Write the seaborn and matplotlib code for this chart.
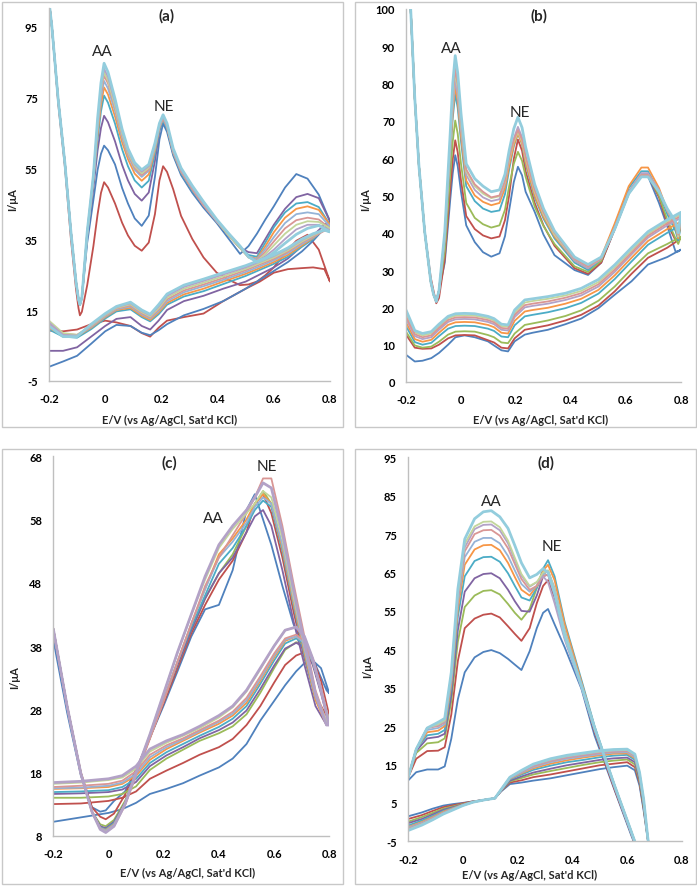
import matplotlib as mpl; mpl.use("Agg")
import matplotlib.pyplot as plt
import seaborn as sns
import pandas as pd
from matplotlib.patches import Rectangle

# ---- colores tipo Excel 2007 ----
COL = {"blue": "#4F81BD", "red": "#C0504D", "green": "#9BBB59", "purple": "#8064A2",
       "aqua": "#4BACC6", "orange": "#F79646", "lblue": "#95B3D7", "pink": "#D99694",
       "lgreen": "#C3D69B", "lav": "#B3A2C7", "laqua": "#93CDDD"}

# =================== (a) ===================
A_E_FWD = [-0.2, -0.19, -0.167, -0.143, -0.122, -0.104, -0.095, -0.09, -0.083, -0.064, -0.042, -0.027,
           -0.015, -0.004, 0.01, 0.035, 0.06, 0.081, 0.105, 0.13, 0.155, 0.177, 0.193, 0.206, 0.22, 0.242,
           0.27, 0.31, 0.35, 0.397, 0.44, 0.48, 0.51, 0.54, 0.57, 0.6, 0.64, 0.68, 0.72, 0.76, 0.8]
A_E_REV = [0.8, 0.78, 0.74, 0.7, 0.65, 0.6, 0.55, 0.5, 0.42, 0.35, 0.28, 0.22, 0.19, 0.16, 0.13, 0.09,
           0.04, 0.0, -0.05, -0.1, -0.15, -0.2]
A_FWD = {
    "red":    [102, 95, 73, 55, 35, 21, 15.5, 13.5, 14.5, 22, 33, 42, 48, 51, 49.5, 45, 39.6, 36, 33.1, 31.7, 34, 42, 51.5, 55.5, 53.9, 49, 41.5, 35, 29.8, 25.5, 23.5, 22, 22.2, 23, 24.8, 27, 31, 34.5, 36.2, 32, 23],
    "blue":   [102, 95, 74, 56, 37, 23, 18, 16.5, 18.5, 34, 46, 54.5, 59, 61.3, 60, 56, 49.4, 45, 40.8, 38.7, 41.6, 52.5, 63, 67.5, 65.2, 58.5, 53, 48, 43.8, 39.5, 35, 30.8, 33, 36.5, 40.5, 44.2, 49.5, 53.3, 52, 47.5, 40],
    "purple": [102, 95, 74, 56, 37, 23, 18, 16.5, 18.5, 35.5, 49.5, 60, 66.3, 69.7, 67.9, 62.5, 55.9, 51.5, 47.7, 45.8, 48.1, 57, 65.4, 69, 66.5, 59, 53.5, 48.5, 44.5, 40, 36, 32.5, 31.3, 31, 35, 39, 43.5, 46.8, 47.7, 46.5, 40],
    "aqua":   [102, 95, 74, 56, 37, 23, 18, 16.5, 18.5, 36, 51, 63, 71, 75.4, 73.4, 67.5, 60.3, 55.5, 51.5, 49.5, 51.4, 59, 65.7, 68.5, 66.1, 59, 53.5, 48.5, 44.5, 40, 36, 32.5, 30.5, 30, 34, 38.3, 42.5, 45, 45.4, 44, 39],
    "orange": [102, 95, 74, 56, 37, 23, 18, 16.5, 18.5, 36.5, 51.5, 64.5, 73, 77.7, 75.7, 69.5, 62.3, 57.5, 53.4, 51.4, 53.2, 60, 66.3, 69, 66.6, 59.5, 54, 49, 44.5, 40, 36, 32.5, 30, 29.5, 33, 36.9, 41, 43.5, 44.2, 43.2, 39],
    "lblue":  [102, 95, 74, 56, 37, 23, 18, 16.5, 18.5, 36.5, 52, 66, 74.8, 79.5, 77.4, 71, 63.5, 58.5, 54.5, 52.5, 54.2, 60.5, 66.5, 69, 66.6, 59.5, 54, 49, 44.5, 40, 36, 32.5, 30, 29.3, 32.2, 35.5, 39.5, 42, 42.5, 42, 38.5],
    "pink":   [102, 95, 74, 56, 37, 23, 18, 16.5, 18.5, 36.5, 52, 67, 76, 81, 78.8, 72, 64.2, 59, 55, 53, 54.6, 61, 66.6, 69, 66.6, 59.5, 54, 49, 44.5, 40, 36, 32.5, 29.8, 29, 31.4, 34.3, 38, 40.3, 41, 40.5, 38],
    "lgreen": [102, 95, 74, 56, 37, 23, 18, 16.5, 18.5, 37, 52.5, 67.5, 77, 82, 79.6, 72.5, 64.7, 59.5, 55.5, 53.5, 55.1, 61, 67, 69.5, 67.1, 60, 54.5, 49.5, 45, 40, 36, 32.5, 29.8, 28.8, 30.7, 33.2, 36.5, 39, 40, 39.8, 38],
    "lav":    [102, 95, 74, 56, 37, 23, 18, 16.5, 18.5, 37, 53, 68, 77.8, 83, 80.6, 73.5, 65.4, 60, 56, 54, 55.5, 61.5, 67.1, 69.5, 67.1, 60, 54.5, 49.5, 45, 40, 36.5, 33, 30, 28.7, 30.1, 32, 35, 37.7, 39, 39, 37.5],
    "laqua":  [102, 95, 74, 56, 37, 23, 18, 16.5, 18.5, 37, 53, 69, 79, 84.5, 82, 74.5, 66, 60.5, 56.5, 54.5, 56, 62, 67.6, 70, 67.6, 60.5, 55, 50, 45.5, 40.5, 36.5, 33, 30, 28.5, 29.5, 31.2, 33.8, 36.3, 38, 38.8, 37],
}
A_REV = {
    "red":    [23, 26.5, 27, 26.8, 26.5, 25.5, 23, 21, 17.5, 14, 13, 12, 10, 7.5, 8.5, 10.5, 11.5, 12, 11, 9.5, 9, 9.2],
    "blue":   [40, 38, 34.5, 31.5, 28.5, 26, 23.5, 21, 17.5, 15.3, 13.5, 11, 9.3, 7.9, 8.6, 10.5, 10.8, 9, 5.5, 2.1, 0.5, -1],
    "purple": [40, 39, 36, 33, 29.5, 27, 25, 23, 21, 19, 17.5, 15, 12, 9.5, 10.5, 13, 12.5, 10.5, 7.5, 4.5, 3.5, 3.5],
    "aqua":   [39, 38, 35, 32.8, 30, 28, 26.3, 24.6, 22.3, 20.3, 18.8, 16.5, 13.8, 11.8, 13, 15.2, 14.6, 12.6, 9.6, 7.2, 7.5, 9.5],
    "orange": [39, 37.8, 35.3, 33.2, 30.5, 28.5, 26.8, 25.2, 23, 21, 19.4, 17, 14.3, 12.2, 13.4, 15.6, 15, 13, 10, 7.6, 7.8, 10],
    "lblue":  [38.5, 37.5, 35.5, 33.6, 31, 29, 27.3, 25.7, 23.5, 21.7, 20, 17.5, 14.7, 12.6, 13.8, 16, 15.2, 13.2, 10.2, 7.8, 8, 10.5],
    "pink":   [38, 37.3, 35.7, 34, 31.4, 29.4, 27.8, 26.2, 24, 22.2, 20.5, 18, 15.1, 12.9, 14.1, 16.3, 15.4, 13.4, 10.4, 8, 8.3, 11],
    "lgreen": [38, 37.5, 36, 34.3, 31.8, 29.8, 28.2, 26.6, 24.5, 22.7, 21, 18.5, 15.5, 13.2, 14.4, 16.6, 15.6, 13.6, 10.6, 8, 8.5, 12],
    "lav":    [37.5, 37.5, 36.3, 34.7, 32.2, 30.2, 28.6, 27, 25, 23.2, 21.5, 19, 16, 13.5, 14.7, 16.9, 15.8, 13.8, 10.8, 7.8, 8, 11.5],
    "laqua":  [37, 37.5, 36.5, 35, 32.5, 30.5, 29, 27.5, 25.5, 23.7, 22, 19.5, 16.5, 13.8, 15, 17.2, 16, 14, 11, 7.5, 7.5, 10.5],
}

# =================== (b) ===================
B_E_FWD = [-0.2, -0.183, -0.168, -0.153, -0.132, -0.11, -0.1, -0.09, -0.08, -0.059, -0.039, -0.03, -0.021,
           -0.012, 0.0, 0.019, 0.05, 0.08, 0.11, 0.14, 0.16, 0.175, 0.192, 0.207, 0.222, 0.235, 0.268, 0.3,
           0.34, 0.413, 0.462, 0.51, 0.559, 0.61, 0.656, 0.68, 0.72, 0.75, 0.78, 0.79]
B_E_REV = [0.8, 0.75, 0.68, 0.62, 0.559, 0.5, 0.437, 0.38, 0.316, 0.26, 0.232, 0.195, 0.171, 0.147, 0.12,
           0.098, 0.05, 0.013, -0.02, -0.047, -0.08, -0.108, -0.14, -0.168, -0.2]
B_FWD = {
    "blue":   [115, 100, 76, 58, 40.3, 27, 23.5, 21.6, 24.5, 32, 49, 56, 60.8, 57.9, 51, 42, 37.5, 34.8, 33.6, 34.5, 39.1, 46, 53.6, 57.7, 55.4, 51, 45.6, 39.5, 34, 30, 28.7, 32, 41, 50.5, 55.5, 55.2, 48, 41.8, 35, 35],
    "red":    [115, 100, 76, 58, 40.3, 28, 24.5, 21.1, 22.5, 33, 52, 59.7, 64.8, 61.6, 54, 44.5, 41, 39.3, 38.5, 39, 43.4, 50, 59.8, 65, 62, 56.5, 48, 42, 36.5, 30.5, 29, 32, 41, 51, 55.5, 55.5, 49.5, 42.5, 38, 38.5],
    "green":  [115, 100, 76, 58, 40.3, 27, 23.5, 21.6, 24.5, 35, 56, 64.5, 70.1, 66.6, 58.5, 48, 44, 42.3, 41.4, 42, 46.2, 52.5, 58.5, 61.7, 59.3, 55, 47, 41.8, 37, 31, 29.5, 32.5, 41.5, 51, 55.5, 55.5, 50, 43.5, 38.5, 37],
    "aqua":   [115, 100, 76, 58, 40.3, 27, 23.5, 21.6, 24.5, 37.5, 61, 70.8, 77.3, 73.5, 64.5, 52.5, 48.5, 46.5, 45.6, 46, 50.4, 57, 63.2, 66.6, 63.8, 58.5, 49.5, 43.8, 38.5, 32, 30, 33, 42, 52, 56.5, 56.5, 51, 45, 40.5, 38],
    "orange": [115, 100, 76, 58, 40.3, 27, 23.5, 21.6, 24.5, 38, 62, 72.4, 79.3, 75.3, 66, 54, 50, 48.3, 47.4, 48, 52, 58, 63.6, 66.6, 63.9, 59, 50, 44.3, 39, 32.5, 30.5, 33.5, 42.5, 52.5, 57.5, 57.5, 52, 46, 41.5, 38.5],
    "lav":    [115, 100, 76, 58, 40.3, 27, 23.5, 21.6, 24.5, 38.5, 63, 73.7, 80.8, 76.8, 67.5, 55.5, 51.5, 49.5, 48.5, 49, 53.2, 59.5, 65.3, 68.4, 65.6, 60.5, 51, 45, 39.5, 32.5, 30.5, 33, 41.5, 51, 56, 56, 51.5, 46, 42, 39],
    "lgreen": [115, 100, 76, 58, 40.3, 27, 23.5, 21.6, 24.5, 39, 64, 75.4, 83, 78.8, 69, 56.5, 52.5, 50.5, 49.3, 49.8, 53.7, 59.5, 64.4, 67, 64.5, 60, 51, 45, 39.5, 33, 31, 33, 41, 50.5, 55.5, 55.5, 51, 46, 42, 39],
    "pink":   [115, 100, 76, 58, 40.3, 27, 23.5, 21.6, 24.5, 39.5, 65, 76.4, 84, 79.8, 70, 57, 53, 51, 49.5, 50, 54, 60, 64.9, 67.5, 65, 60.5, 51.5, 45.5, 40, 33, 31, 33, 41, 50.5, 55.5, 55.5, 51, 46, 42, 39.5],
    "laqua":  [115, 100, 76, 58, 40.3, 27, 23.5, 21.6, 24.5, 40.3, 67, 80, 87.5, 82.9, 72, 58.5, 54.5, 52.5, 51, 51.5, 55.7, 62, 67.9, 71, 68.2, 63, 53, 46.5, 40.5, 33.5, 31.5, 33.5, 41, 50.5, 55, 55, 51, 46.5, 43, 40],
}
B_REV = {
    "blue":   [35.5, 33.5, 31.5, 27, 23.4, 19.8, 17, 15.5, 14, 13.2, 12.7, 10.9, 8.2, 8.5, 9.8, 10.9, 12, 12.5, 12, 10, 7.8, 6.4, 5.7, 5.5, 7.3],
    "red":    [38.5, 36, 33.3, 29, 24.3, 20.5, 18, 16.5, 15.2, 14.4, 14, 11.7, 9, 9.2, 10.6, 11.2, 12.5, 12.6, 12.5, 11.7, 10, 9, 8.9, 9.2, 12.7],
    "green":  [39, 37, 34.5, 30.3, 25.6, 21.8, 19.2, 17.7, 16.5, 15.7, 15.3, 13, 10.4, 10.6, 12, 12.6, 13.5, 13.6, 13.5, 12.7, 10.8, 9.5, 9.2, 9.8, 13.5],
    "aqua":   [42, 40, 36.8, 32.3, 27.6, 23.7, 21.2, 19.8, 18.7, 18, 17.6, 15.2, 12, 12.2, 13.7, 14.3, 15, 15.1, 15, 14.3, 12.3, 10.5, 10, 10.7, 15],
    "orange": [43, 41, 37.8, 33.3, 28.6, 24.7, 22.3, 21, 19.9, 19.3, 18.9, 16.4, 13, 13.2, 14.7, 15.3, 16, 16.1, 16, 15.3, 13.2, 11.3, 10.8, 11.5, 16],
    "lav":    [44, 42, 38.7, 34.2, 29.5, 25.6, 23.2, 22, 21, 20.4, 20, 17.4, 13.8, 14, 15.5, 16.1, 16.8, 16.9, 16.8, 16.1, 14, 12, 11.5, 12.3, 17],
    "lgreen": [45, 43, 39.7, 35.3, 30.7, 26.8, 24.4, 23.2, 22.3, 21.7, 21.3, 18.6, 14.8, 15, 16.5, 17.1, 17.8, 17.9, 17.8, 17.1, 15, 13, 12.5, 13.3, 18.5],
    "pink":   [44.5, 42.5, 39.2, 34.7, 30.1, 26.2, 23.8, 22.6, 21.6, 21, 20.6, 18, 14.3, 14.5, 16, 16.6, 17.3, 17.4, 17.3, 16.6, 14.5, 12.5, 12, 12.8, 17.5],
    "laqua":  [45.5, 43.5, 40.3, 36, 31.4, 27.5, 25.1, 23.8, 22.9, 22.3, 22, 19.3, 15.3, 15.5, 17, 17.6, 18.3, 18.4, 18.3, 17.6, 15.5, 13.5, 13, 13.8, 19.3],
}

# =================== (c) ===================
C_E_FWD = [-0.2, -0.15, -0.1, -0.06, -0.03, -0.01, 0.02, 0.06, 0.1, 0.15, 0.2, 0.25, 0.3, 0.35, 0.4, 0.45,
           0.5, 0.53, 0.56, 0.59, 0.63, 0.67, 0.71, 0.75, 0.79]
C_E_REV = [0.8, 0.77, 0.74, 0.71, 0.68, 0.64, 0.6, 0.55, 0.5, 0.45, 0.4, 0.33, 0.27, 0.21, 0.15, 0.1, 0.05,
           0.0, -0.1, -0.2]
C_FWD = {
    "blue":   [39, 27.5, 17.5, 12.5, 11.8, 12, 13.5, 15, 18.5, 23.5, 28.6, 34, 39.5, 43.8, 44.5, 50, 59.5, 62, 58, 54, 47.5, 41.5, 37.5, 35, 31],
    "red":    [40.5, 28.5, 18, 12.5, 11, 10.6, 11.5, 14.5, 18.5, 23.5, 29, 34.5, 40, 44.5, 48.5, 51.5, 56, 60.5, 62, 59, 52, 43.5, 36, 30, 27],
    "green":  [40.7, 28.5, 17.8, 11.8, 9.8, 9.5, 10.5, 13.5, 18, 23.5, 29.5, 35, 40.5, 45.5, 49.5, 52.5, 57, 60.5, 62.5, 60.5, 53.5, 45, 37, 30, 26],
    "purple": [40.7, 28.5, 17.8, 11.8, 9.5, 9.2, 10.2, 13.2, 17.8, 23.5, 29.5, 35, 40.5, 45.5, 49.5, 52, 56, 58.5, 59.5, 57, 50, 42, 35, 28.5, 25.5],
    "aqua":   [40.7, 28.5, 17.8, 11.8, 9.3, 9, 10, 13, 17.8, 23.5, 29.5, 35.5, 41, 46, 51, 53.5, 57, 59.5, 61, 60, 53, 44.5, 36.5, 29.5, 26],
    "orange": [40.7, 28.5, 17.8, 11.8, 9.2, 8.9, 9.8, 13, 17.8, 23.5, 29.5, 35.5, 41.5, 47, 52.5, 55, 58, 60.5, 62, 60.5, 53.5, 45, 37, 29.5, 25.5],
    "lblue":  [40.7, 28.5, 17.8, 11.8, 9.2, 8.8, 9.7, 13, 17.8, 23.5, 29.5, 35.5, 41.5, 47, 52, 54.5, 57.5, 60, 61.5, 60.5, 54, 45.5, 37.5, 30, 25.5],
    "pink":   [40.7, 28.5, 17.8, 11.8, 9.1, 8.6, 9.5, 12.8, 17.5, 23.3, 29.3, 35.5, 41.5, 47.5, 52, 55.5, 59, 61.5, 64.5, 64.5, 57, 48, 39.5, 31, 26],
    "lgreen": [40.7, 28.5, 17.8, 11.8, 9, 8.6, 9.5, 13, 18, 24, 30.5, 37, 43, 48.5, 53.5, 56.5, 59, 60.5, 62.5, 61.5, 55, 46, 38, 30.5, 26],
    "lav":    [40.7, 28.5, 17.8, 11.8, 9, 8.5, 9.5, 13, 18, 24, 30.5, 37, 43, 49, 54, 57, 59.5, 61.5, 63.8, 63, 56, 47, 38.5, 30.5, 25.5],
}
C_REV = {
    "blue":   [30.5, 34.5, 35.7, 35.3, 34, 31.8, 29.3, 26.2, 22.5, 20.2, 18.8, 17.5, 16.3, 15.4, 14.6, 13.2, 12.2, 11.6, 10.9, 10.2],
    "red":    [27, 32.5, 36, 37, 36.5, 35, 32.2, 28.5, 25.5, 23.3, 22, 20.8, 19.5, 18.3, 17, 15, 14, 13.5, 13.1, 13],
    "green":  [26, 31, 35.5, 38, 38.6, 37.4, 34.5, 30.6, 27.2, 25.3, 24.2, 23, 21.6, 20.2, 18.4, 15.8, 14.6, 14.2, 14, 14],
    "purple": [25.5, 30.5, 35, 37.8, 38.5, 37.6, 34.9, 31.2, 27.8, 25.9, 24.7, 23.4, 22, 20.7, 19, 16.5, 15.3, 14.9, 14.7, 14.6],
    "aqua":   [26, 31, 35.5, 38.3, 39.2, 38.4, 35.7, 32, 28.5, 26.5, 25.2, 23.8, 22.5, 21.2, 19.5, 17, 15.7, 15.2, 15, 14.9],
    "orange": [25.5, 31, 35.5, 38.5, 39.5, 38.8, 36.2, 32.5, 29, 27, 25.7, 24.3, 23, 21.7, 20, 17.5, 16.2, 15.7, 15.5, 15.4],
    "lblue":  [25.5, 31, 35.5, 38.5, 39.5, 39, 36.5, 32.8, 29.4, 27.3, 26, 24.5, 23.2, 22, 20.4, 17.8, 16.4, 15.9, 15.6, 15.5],
    "pink":   [26, 31.5, 36, 38.8, 39.8, 39.2, 36.8, 33.2, 29.8, 27.6, 26.2, 24.7, 23.4, 22.3, 20.8, 18.2, 16.7, 16.2, 15.9, 15.7],
    "lgreen": [26, 31, 36, 39.5, 41, 40.5, 38, 34.3, 30.8, 28.3, 26.7, 25, 23.8, 22.7, 21.3, 18.6, 17.2, 16.8, 16.4, 16.2],
    "lav":    [25.5, 31, 36, 39.5, 41, 40.5, 38, 34.5, 31, 28.5, 27, 25.3, 24, 23, 21.7, 19, 17.5, 17, 16.6, 16.4],
}

# =================== (d) ===================
D_E_FWD = [-0.2, -0.17, -0.13, -0.09, -0.066, -0.042, -0.018, 0.007, 0.043, 0.075, 0.104, 0.135, 0.165,
           0.19, 0.214, 0.244, 0.27, 0.293, 0.311, 0.335, 0.372, 0.433, 0.481, 0.554, 0.615, 0.64]
D_E_REV = [0.69, 0.675, 0.66, 0.645, 0.628, 0.6, 0.55, 0.5, 0.44, 0.38, 0.32, 0.257, 0.215, 0.172, 0.14,
           0.117, 0.08, 0.038, 0.0, -0.035, -0.071, -0.11, -0.15, -0.2]
D_FWD = {
    "blue":   [10.8, 13, 13.7, 13.7, 14.5, 21.7, 32, 39, 42.9, 44.3, 44.8, 44, 42.5, 41, 39.6, 44.5, 50.5, 54.5, 55.5, 51.5, 45.5, 34.7, 22.5, 8.3, -3.5, -8],
    "red":    [11.5, 16.5, 18.5, 18.6, 19.5, 28, 42, 50.5, 53, 54, 54.3, 53.3, 51, 49, 47.2, 50.5, 57, 61.5, 63, 58.5, 48, 35.5, 23.5, 8.5, -3, -8],
    "green":  [11.5, 18, 20.5, 20.8, 21.8, 31.5, 47, 56, 59, 60.2, 60.4, 59.3, 56.8, 54.5, 52.7, 55.5, 61, 64.5, 65.5, 60, 49, 36, 24, 9, -3, -8],
    "purple": [11.5, 18.5, 21.8, 22.2, 23, 33, 50, 60, 63.5, 64.6, 64.8, 63.5, 60.5, 57.5, 55, 54.8, 59, 64, 64.5, 59, 48.5, 35.5, 24, 9, -3, -8],
    "aqua":   [11.5, 19, 22.6, 23, 24, 35, 53.5, 64, 68, 69, 69.1, 67.8, 64.8, 61.5, 58.5, 57.7, 61, 66, 68.2, 64, 52, 37, 25, 9.5, -2.5, -7.5],
    "orange": [11.5, 19, 23.4, 23.8, 25, 36, 55.5, 67, 71, 72.1, 72.2, 70.8, 67.5, 63.8, 60.5, 59, 61.5, 65.5, 67, 63, 51.5, 36.5, 24.5, 9.5, -2.5, -7.5],
    "lblue":  [11.5, 19, 24, 24.5, 25.5, 37, 57, 69, 73, 74, 74, 72.6, 69.3, 65.5, 62, 60, 61.5, 64.5, 65.5, 61, 50, 36, 24.5, 9.5, -2.5, -7.5],
    "pink":   [11.5, 19, 24.5, 25, 26, 37.5, 58, 70.5, 75, 76, 76.1, 74.6, 71.3, 67.2, 63.3, 60.5, 61.5, 64, 64.5, 59.5, 49, 35.5, 24.5, 9.5, -2.5, -7.5],
    "lav":    [11.5, 19, 24.5, 25.3, 26.3, 38, 59, 71.5, 76.3, 77.4, 77.5, 76, 72.6, 68.2, 64.2, 61.3, 62.5, 64, 62.5, 57, 47.5, 35, 24, 9, -3, -8],
    "lgreen": [11.5, 19, 24.5, 25.5, 26.5, 38.5, 59.5, 72.5, 77, 78.2, 78.3, 76.8, 73.3, 68.8, 64.6, 61.5, 62.5, 65, 65.5, 60.5, 49.5, 35.5, 24.5, 9.5, -2.5, -7.5],
    "laqua":  [11.5, 19, 24.5, 26, 27, 39, 60.7, 73.7, 79, 80.8, 81.1, 79.5, 76.5, 72, 67.5, 63.6, 64.5, 66, 65, 59.5, 48.5, 35.5, 24.5, 9.5, -2.5, -7.5],
}
D_REV = {
    "blue":   [-12, -4.5, 3, 9.5, 13.5, 14.7, 14.3, 13.8, 13, 12.2, 11.4, 10.8, 10.3, 9.9, 8, 6.2, 5.8, 5.4, 5, 4.7, 4.3, 3.5, 2.5, 1.5],
    "red":    [-12, -4.4, 3.6, 10.2, 14.3, 15.6, 15.2, 14.8, 14, 13.2, 12.4, 11.7, 10.9, 10.3, 8.1, 6.2, 5.8, 5.4, 4.9, 4.4, 3.9, 2.9, 1.8, 0.8],
    "green":  [-12, -4.3, 4.1, 10.8, 15, 16.3, 16, 15.6, 14.9, 14.1, 13.3, 12.4, 11.5, 10.6, 8.2, 6.2, 5.8, 5.3, 4.7, 4.1, 3.5, 2.4, 1.3, 0.1],
    "purple": [-12, -4.2, 4.5, 11.2, 15.6, 16.8, 16.6, 16.2, 15.5, 14.8, 13.9, 12.9, 11.9, 10.8, 8.2, 6.2, 5.8, 5.3, 4.6, 3.9, 3.2, 2, 0.8, -0.3],
    "aqua":   [-12, -4.2, 5, 11.8, 16.2, 17.5, 17.3, 16.9, 16.2, 15.6, 14.7, 13.6, 12.4, 11.1, 8.3, 6.2, 5.8, 5.3, 4.5, 3.7, 2.9, 1.6, 0.4, -0.9],
    "orange": [-12, -4.1, 5.3, 12.1, 16.6, 17.9, 17.8, 17.4, 16.8, 16.1, 15.2, 14, 12.7, 11.3, 8.4, 6.2, 5.8, 5.3, 4.5, 3.6, 2.7, 1.3, 0.0, -1.3],
    "lblue":  [-12, -4.1, 5.5, 12.4, 16.9, 18.2, 18.1, 17.7, 17.1, 16.5, 15.6, 14.3, 12.9, 11.4, 8.4, 6.2, 5.8, 5.2, 4.4, 3.5, 2.5, 1.1, -0.2, -1.5],
    "pink":   [-12, -4.1, 5.6, 12.6, 17.2, 18.5, 18.3, 18, 17.4, 16.8, 15.9, 14.6, 13.1, 11.5, 8.4, 6.2, 5.8, 5.2, 4.4, 3.4, 2.4, 1, -0.4, -1.8],
    "lav":    [-12, -4, 5.8, 12.7, 17.4, 18.7, 18.5, 18.2, 17.6, 17, 16.1, 14.8, 13.2, 11.6, 8.5, 6.2, 5.8, 5.2, 4.4, 3.3, 2.3, 0.8, -0.5, -1.9],
    "lgreen": [-12, -4, 5.9, 12.8, 17.5, 18.8, 18.7, 18.4, 17.8, 17.2, 16.3, 15, 13.4, 11.7, 8.5, 6.2, 5.8, 5.2, 4.3, 3.3, 2.2, 0.7, -0.6, -2],
    "laqua":  [-12, -4, 6, 13, 17.7, 19, 18.9, 18.6, 18, 17.4, 16.5, 15.1, 13.5, 11.7, 8.5, 6.2, 5.8, 5.2, 4.3, 3.2, 2.1, 0.6, -0.8, -2.2],
}

X_TICKS = [-0.2, 0, 0.2, 0.4, 0.6, 0.8]
X_TICKLABELS = ["-0.2", "0", "0.2", "0.4", "0.6", "0.8"]
A_YTICKS = [-5, 15, 35, 55, 75, 95]
B_YTICKS = [0, 10, 20, 30, 40, 50, 60, 70, 80, 90, 100]
C_YTICKS = [8, 18, 28, 38, 48, 58, 68]
D_YTICKS = [-5, 5, 15, 25, 35, 45, 55, 65, 75, 85, 95]

# ---- estilo ----
sns.set_theme(style="white")
plt.rcParams["font.family"] = ["Lato", "DejaVu Sans"]
W, H = 697, 887
fig = plt.figure(figsize=(W / 100, H / 100), dpi=100)

def fx(x): return x / W
def fy(y): return 1 - y / H

def to_long(e_fwd, e_rev, fwd, rev):
    rows = []
    for k in fwd:
        es = list(e_fwd) + list(e_rev)
        vs = list(fwd[k]) + list(rev[k])
        for i, (e, v) in enumerate(zip(es, vs)):
            rows.append({"curve": k, "step": i, "E": e, "I": v})
    return pd.DataFrame(rows)

# caja y ejes en px (x0, y0, x1, y1)
PANELS = [
    dict(tag="(a)", df=to_long(A_E_FWD, A_E_REV, A_FWD, A_REV), ylim=(-5, 100), yt=A_YTICKS,
         box=(1.5, 2.5, 343, 428), ax=(49, 9.25, 330, 382), tpos=(0.42, 0.982),
         aa=(-0.01, 88), ne=(0.21, 72.5), xl=(170, 420), yl=(13, 200), thick="laqua"),
    dict(tag="(b)", df=to_long(B_E_FWD, B_E_REV, B_FWD, B_REV), ylim=(0, 100), yt=B_YTICKS,
         box=(354.5, 2.5, 695.5, 428), ax=(406, 10, 681, 383), tpos=(0.483, 0.984),
         aa=(-0.035, 89.5), ne=(0.213, 72.5), xl=(541, 420), yl=(366, 200), thick="laqua"),
    dict(tag="(c)", df=to_long(C_E_FWD, C_E_REV, C_FWD, C_REV), ylim=(8, 68), yt=C_YTICKS,
         box=(1.5, 450, 343, 885), ax=(53.3, 457.3, 329.3, 836.7), tpos=(0.42, 0.984),
         aa=(0.38, 58.2), ne=(0.573, 66.5), xl=(188, 873), yl=(15, 678), thick="lav"),
    dict(tag="(d)", df=to_long(D_E_FWD, D_E_REV, D_FWD, D_REV), ylim=(-5, 95), yt=D_YTICKS,
         box=(354.5, 450, 695.5, 885), ax=(408, 458.3, 682, 842.3), tpos=(0.505, 0.987),
         aa=(0.104, 83.5), ne=(0.326, 72), xl=(530, 875), yl=(368, 667), thick="laqua"),
]

GRAY = "#BFBFBF"
for p in PANELS:
    bx0, by0, bx1, by1 = p["box"]
    fig.add_artist(Rectangle((fx(bx0), fy(by1)), (bx1 - bx0) / W, (by1 - by0) / H,
                             transform=fig.transFigure, fill=False, ec="#C8C8C8", lw=1.0))
    x0, y0, x1, y1 = p["ax"]
    ax = fig.add_axes([fx(x0), fy(y1), (x1 - x0) / W, (y1 - y0) / H])
    df = p["df"]
    for k in df["curve"].unique():
        d = df[df["curve"] == k]
        sns.lineplot(data=d, x="E", y="I", sort=False, estimator=None, ax=ax,
                     color=COL[k], lw=2.0 if k == p["thick"] else 1.3, legend=False)
    ax.set_xlim(-0.2, 0.8)
    ax.set_ylim(*p["ylim"])
    ax.set_xticks(X_TICKS)
    ax.set_xticklabels(X_TICKLABELS)
    ax.set_yticks(p["yt"])
    ax.set_yticklabels([str(v) for v in p["yt"]])
    ax.tick_params(length=0, labelsize=8, pad=8, colors="black")
    ax.tick_params(axis="x", pad=9)
    for t in ax.get_xticklabels() + ax.get_yticklabels():
        t.set_fontweight("bold")
    for s in ("top", "right"):
        ax.spines[s].set_visible(False)
    for s in ("left", "bottom"):
        ax.spines[s].set_color(GRAY); ax.spines[s].set_linewidth(1.0)
    ax.set_xlabel(""); ax.set_ylabel("")
    ax.patch.set_alpha(0)
    ax.text(*p["tpos"], p["tag"], transform=ax.transAxes, ha="center", va="center",
            fontsize=11, fontweight="bold")
    ax.text(*p["aa"], "AA", ha="center", va="center", fontsize=11)
    ax.text(*p["ne"], "NE", ha="center", va="center", fontsize=11)
    fig.text(fx(p["xl"][0]), fy(p["xl"][1]), "E/V (vs Ag/AgCl, Sat'd KCl)", ha="center", va="center",
             fontsize=8, fontweight="bold")
    fig.text(fx(p["yl"][0]), fy(p["yl"][1]), "I/μA", ha="center", va="center", rotation=90,
             fontsize=8, fontweight="bold")

fig.savefig("out.png", dpi=100)
